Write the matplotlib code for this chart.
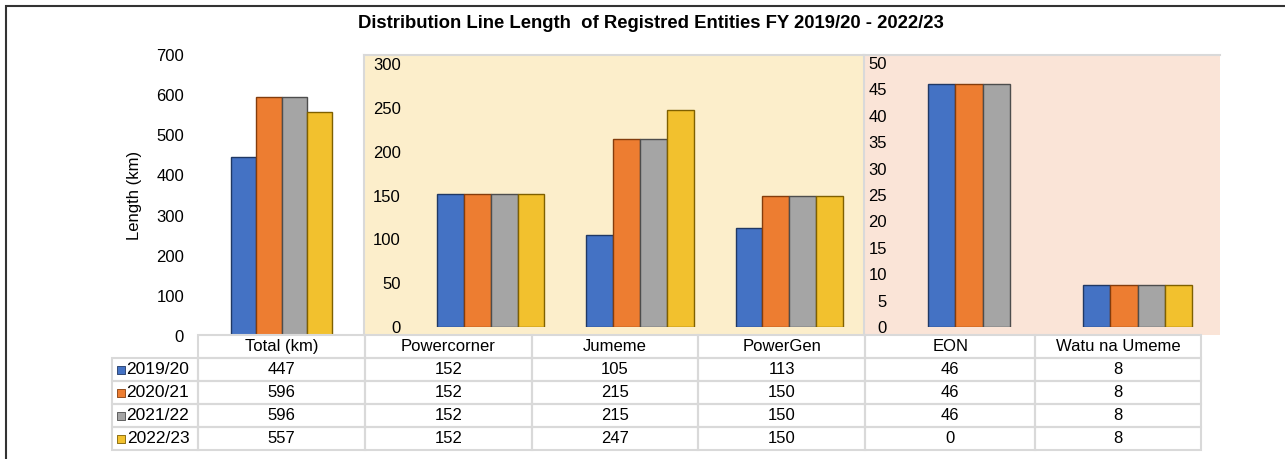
import matplotlib.pyplot as plt
from matplotlib.patches import Rectangle

plt.rcParams['font.family'] = ['Liberation Sans', 'DejaVu Sans']

# data
years = ['2019/20', '2020/21', '2021/22', '2022/23']
entities = ['Total (km)', 'Powercorner', 'Jumeme', 'PowerGen', 'EON', 'Watu na Umeme']
v_2019 = [447, 152, 105, 113, 46, 8]
v_2020 = [596, 152, 215, 150, 46, 8]
v_2021 = [596, 152, 215, 150, 46, 8]
v_2022 = [557, 152, 247, 150, 0, 8]
series = [v_2019, v_2020, v_2021, v_2022]

colors = ['#4472C4', '#ED7D31', '#A5A5A5', '#F2C12E']
edges = ['#203864', '#843C0C', '#4d4d4d', '#7F6000']

W, H = 1285, 459
fig = plt.figure(figsize=(W / 100, H / 100), dpi=100)


def box(x0, y0, x1, y1):
    # pixel box -> figure fraction rect
    return [x0 / W, 1 - y1 / H, (x1 - x0) / W, (y1 - y0) / H]


# outer frame
fig.patches.append(Rectangle((6 / W, -0.1), 1.2, 1 - 6 / H + 0.1, transform=fig.transFigure,
                             fill=False, edgecolor='#333333', lw=1.5))

fig.text(651 / W, 1 - 23 / H, 'Distribution Line Length  of Registred Entities FY 2019/20 - 2022/23',
         ha='center', va='center', fontsize=13.3, fontweight='bold')

# panel backgrounds
for (x0, x1, fc) in [(364, 864, '#FCEECB'), (864, 1220, '#FAE4D7')]:
    bg = fig.add_axes(box(x0, 55, x1, 335), zorder=0)
    bg.set_facecolor(fc)
    bg.set_xticks([])
    bg.set_yticks([])
    for s in ['bottom', 'right']:
        bg.spines[s].set_visible(False)
    for s in ['top', 'left']:
        bg.spines[s].set_color('#D9D9D9')
        bg.spines[s].set_linewidth(1.5)

panels = [
    # (slice of entities, plot box px, ymax, step, bar width, pad)
    (slice(0, 1), (198, 55, 365, 336), 700, 100, 0.15, 10),
    (slice(1, 4), (416, 64, 864, 327), 300, 50, 0.18, 11),
    (slice(4, 6), (905, 63, 1215, 327), 50, 5, 0.177, 13),
]

for sl, (x0, y0, x1, y1), ymax, step, bw, pad in panels:
    ax = fig.add_axes(box(x0, y0, x1, y1), zorder=2)
    ax.patch.set_alpha(0)
    cats = entities[sl]
    n = len(cats)
    xs = list(range(n))
    for i, vals in enumerate(series):
        bars = ax.bar([x + (i - 1.5) * bw for x in xs], vals[sl], width=bw,
                      color=colors[i], edgecolor=edges[i], linewidth=1.0)
        for b in bars:
            if b.get_height() == 0:
                b.set_visible(False)
    ax.set_xlim(-0.5, n - 0.5)
    ax.set_ylim(0, ymax)
    ax.set_yticks(range(0, ymax + 1, step))
    ax.tick_params(axis='y', length=0, pad=pad, labelsize=12)
    ax.set_xticks([])
    for s in ax.spines.values():
        s.set_visible(False)
    if ymax == 700:
        ax.set_ylabel('Length (km)', fontsize=12, labelpad=10)

# data table
tax = fig.add_axes(box(112, 335, 1201, 450), zorder=3)
tax.axis('off')
cell_text = [[''] + entities]
for y, vals in zip(years, series):
    cell_text.append([y] + [str(v) for v in vals])
col_w = [86] + [167, 167, 167, 167, 170, 166]
tot = sum(col_w)
tbl = tax.table(cellText=cell_text, colWidths=[c / tot for c in col_w],
                cellLoc='center', bbox=[0, 0, 1, 1])
tbl.auto_set_font_size(False)
tbl.set_fontsize(12)
for (r, c), cell in tbl.get_celld().items():
    cell.set_edgecolor('#D9D9D9')
    cell.set_linewidth(1.5)
    cell.set_facecolor('none')
    if r == 0 and c == 0:
        cell.visible_edges = ''
    if c == 0 and r > 0:
        cell._loc = 'right'
        cell.get_text().set_ha('right')
        cell.get_text().set_fontsize(12.5)
        cell.PAD = 0.1

# legend keys in the row label column
for i in range(len(years)):
    yc = 1 - (i + 1.5) / 5
    tax.scatter([9 / tot], [yc], marker='s', s=26, color=colors[i],
                edgecolor=edges[i], linewidth=0.6, transform=tax.transAxes, clip_on=False)

fig.savefig('out.png', dpi=100)
